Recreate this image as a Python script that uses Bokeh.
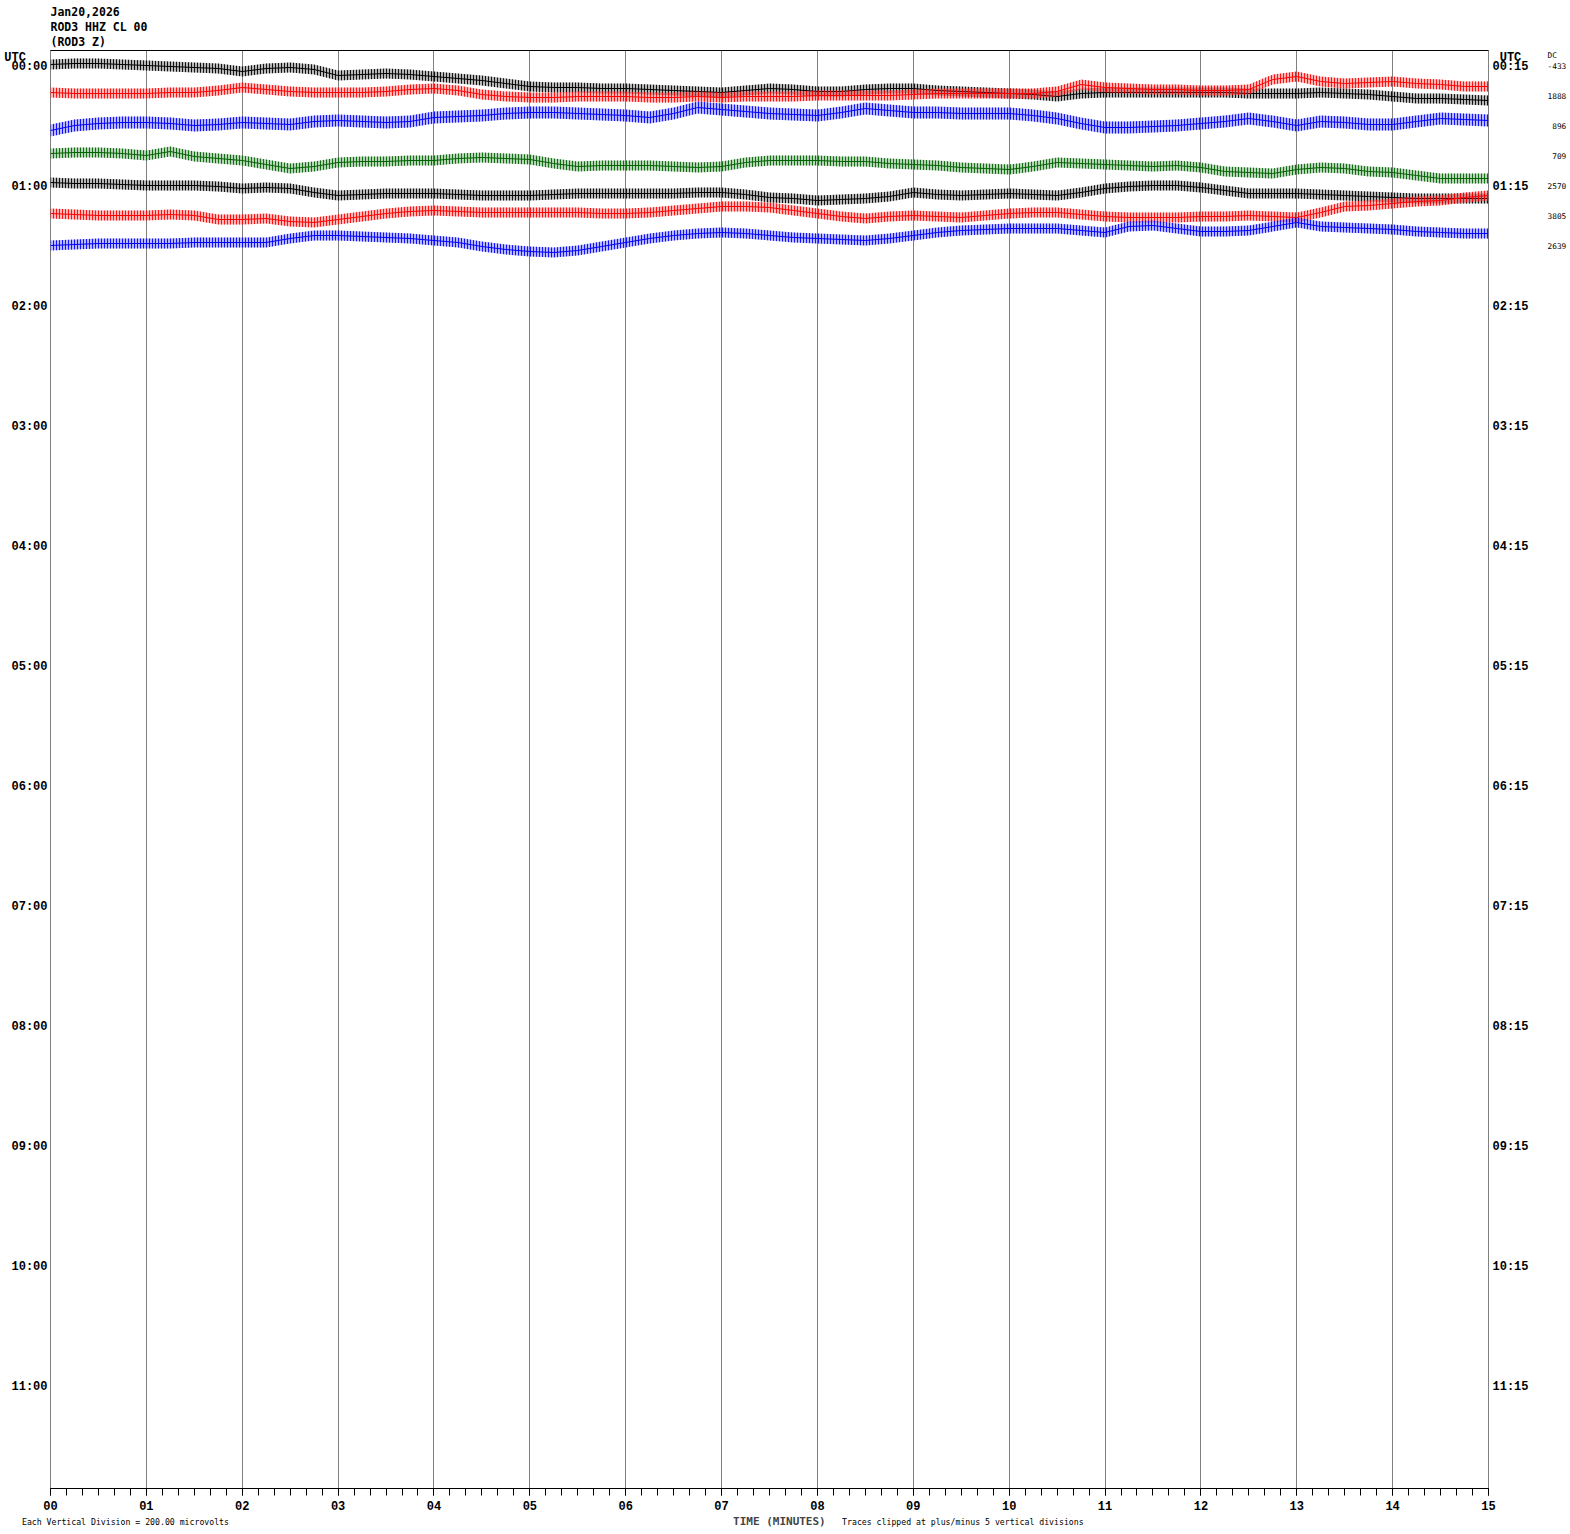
from bokeh.plotting import figure
from bokeh.models import Range1d, LinearAxis, FixedTicker, Label
from bokeh.layouts import column
from bokeh.embed import file_html
from bokeh.resources import INLINE

# ---------------- data ----------------
header_lines = ["Jan20,2026", "ROD3 HHZ CL 00", "(ROD3 Z)"]
left_hours = ["00:00", "01:00", "02:00", "03:00", "04:00", "05:00",
              "06:00", "07:00", "08:00", "09:00", "10:00", "11:00"]
right_hours = ["00:15", "01:15", "02:15", "03:15", "04:15", "05:15",
               "06:15", "07:15", "08:15", "09:15", "10:15", "11:15"]
minute_labels = ["00", "01", "02", "03", "04", "05", "06", "07",
                 "08", "09", "10", "11", "12", "13", "14", "15"]
dc_values = ["-433", "1888", "896", "709", "2570", "3805", "2639"]
microvolts_per_division = "200.00"
clip_divisions = 5

# sample times (minutes into each 15-minute line)
minutes = [0, 0.25, 0.5, 0.75, 1, 1.25, 1.5, 1.75, 2, 2.25, 2.5, 2.75,
           3, 3.25, 3.5, 3.75, 4, 4.25, 4.5, 4.75, 5, 5.25, 5.5, 5.75,
           6, 6.25, 6.5, 6.75, 7, 7.25, 7.5, 7.75, 8, 8.25, 8.5, 8.75,
           9, 9.25, 9.5, 9.75, 10, 10.25, 10.5, 10.75, 11, 11.25, 11.5, 11.75,
           12, 12.25, 12.5, 12.75, 13, 13.25, 13.5, 13.75, 14, 14.25, 14.5, 14.75, 15]

# trace deflection (1/30 of a vertical division, positive = up), one list per line
line_0000 = [2, 3, 3, 2, 1, 0, -1, -2, -5, -2, -1, -3, -9, -8, -7, -8, -10, -12, -14, -17,
             -20, -21, -21, -22, -22, -23, -24, -25, -26, -24, -22, -23, -25, -25, -23, -22,
             -22, -24, -25, -26, -27, -28, -30, -27, -26, -26, -26, -26, -26, -26, -27, -27,
             -27, -26, -27, -28, -30, -32, -32, -33, -34]
line_0015 = [4, 3, 3, 3, 3, 4, 4, 6, 9, 7, 5, 4, 4, 4, 5, 7, 8, 6, 2, 0,
             -1, -1, 0, 0, 0, -1, -1, 0, -1, 0, 0, 0, 1, 1, 1, 1,
             2, 3, 3, 3, 3, 3, 5, 12, 9, 8, 7, 7, 6, 6, 7, 17,
             20, 15, 13, 14, 15, 13, 12, 10, 10]
line_0030 = [-4, 1, 3, 4, 4, 3, 1, 2, 4, 3, 2, 5, 6, 5, 4, 5, 9, 10, 11, 13,
             14, 14, 13, 12, 11, 9, 13, 19, 17, 15, 13, 12, 11, 14, 18, 16,
             14, 14, 13, 13, 13, 11, 8, 3, -1, -1, 0, 1, 3, 5, 8, 5,
             1, 5, 4, 2, 2, 5, 8, 7, 6]
line_0045 = [3, 4, 4, 3, 1, 5, 0, -2, -4, -8, -12, -10, -6, -5, -5, -4, -4, -2, -1, -2,
             -3, -7, -10, -9, -9, -9, -10, -11, -10, -6, -4, -4, -4, -5, -5, -7,
             -8, -9, -11, -12, -13, -10, -6, -7, -8, -9, -10, -9, -11, -15, -16, -17,
             -13, -11, -12, -15, -16, -19, -22, -22, -22]
line_0100 = [4, 3, 3, 2, 1, 1, 1, 0, -2, -1, -2, -6, -9, -8, -7, -7, -7, -8, -9, -9,
             -9, -8, -7, -7, -7, -7, -7, -6, -6, -8, -11, -12, -14, -13, -12, -10,
             -6, -8, -9, -8, -7, -8, -9, -6, -2, 0, 1, 1, -1, -4, -7, -7,
             -7, -8, -9, -10, -11, -12, -12, -12, -12]
line_0115 = [3, 2, 1, 1, 1, 2, 1, -3, -3, -2, -5, -6, -3, 0, 3, 5, 6, 5, 4, 4,
             4, 4, 4, 3, 3, 4, 6, 8, 10, 10, 9, 6, 3, 0, -2, 0,
             1, 0, -1, 1, 3, 4, 4, 2, 0, -1, -1, -1, 0, 0, 1, 0,
             -1, 4, 10, 11, 13, 15, 16, 19, 21]
line_0130 = [1, 2, 3, 3, 3, 3, 4, 4, 4, 4, 8, 11, 11, 10, 9, 8, 6, 4, 0, -3,
             -5, -6, -4, 0, 4, 8, 11, 13, 14, 13, 11, 9, 8, 7, 6, 8,
             11, 14, 16, 17, 18, 18, 18, 16, 14, 20, 21, 18, 15, 15, 16, 20,
             24, 20, 19, 18, 17, 15, 14, 13, 13]
# half-width of the high-frequency noise band of each line (same units)
noise_halfwidth = [5, 5, 6, 5, 5, 5, 5]

lines = [line_0000, line_0015, line_0030, line_0045, line_0100, line_0115, line_0130]

# ---------------- styling / layout ----------------
W = 1568
DIV = 30.0                 # units per vertical division (= line spacing)
COLORS = ["#000000", "#FF0000", "#0000FF", "#006400"]
GRID = "#808080"
NB = "\u00a0"
MONO = "DejaVu Sans Mono"
SERIF_MONO = "Liberation Mono"
FRAME_L, FRAME_R = 50, 1488   # the strips share the main frame's horizontal extent


def strip_fig(height):
    f = figure(width=W, height=height, x_range=Range1d(FRAME_L, FRAME_R),
               y_range=Range1d(height, 0),
               x_axis_type=None, y_axis_type=None, min_border=0,
               toolbar_location=None, output_backend="svg")
    f.outline_line_color = None
    f.xgrid.visible = False
    f.ygrid.visible = False
    return f


# ---- header strip (50 px) ----
head = strip_fig(50)
for i, t in enumerate(header_lines):
    head.add_layout(Label(x=50, y=11 + 15 * i, text=t, text_font=MONO,
                          text_font_style="bold", text_font_size="11.5px",
                          text_baseline="middle", text_align="left", text_color="black"))

# ---- main helicorder panel ----
p = figure(frame_width=1438, frame_height=1438,
           x_range=Range1d(0, 15), y_range=Range1d(47.4, -16 / 30.0),
           min_border_left=50, min_border_right=80, min_border_top=0, min_border_bottom=26,
           toolbar_location=None, output_backend="svg")
p.title.visible = False
p.outline_line_color = GRID
p.outline_line_width = 1

# bottom axis (minutes)
xt = FixedTicker(ticks=list(range(16)), minor_ticks=[i / 6 for i in range(91)])
xa = p.xaxis[0]
xa.ticker = xt
xa.major_label_overrides = {i: lab for i, lab in enumerate(minute_labels)}
xa.axis_line_color = "black"
xa.major_tick_in = 0
xa.major_tick_out = 7
xa.minor_tick_in = 0
xa.minor_tick_out = 7
xa.major_tick_line_color = "black"
xa.minor_tick_line_color = "black"
xa.major_label_standoff = 5
xa.major_label_text_font = SERIF_MONO
xa.major_label_text_font_style = "bold"
xa.major_label_text_font_size = "12px"
xa.major_label_text_color = "black"

p.xgrid.ticker = xt
p.xgrid.grid_line_color = GRID
p.xgrid.grid_line_width = 1
p.ygrid.visible = False

# top border line
ta = LinearAxis(ticker=FixedTicker(ticks=[]), axis_line_color="black",
                major_tick_in=0, major_tick_out=0, minor_tick_in=0, minor_tick_out=0,
                major_tick_line_color=None, minor_tick_line_color=None,
                major_label_standoff=0, major_label_text_font_size="0px")
p.add_layout(ta, "above")

# left axis: line start times, plus the "UTC" heading
hour_rows = [4 * i for i in range(len(left_hours))]
left_over = {r: lab for r, lab in zip(hour_rows, left_hours)}
left_over[-0.35] = "UTC" + NB * 3
ya = p.yaxis[0]
ya.ticker = FixedTicker(ticks=[-0.35] + hour_rows)
ya.major_label_overrides = left_over
ya.axis_line_color = None
ya.major_tick_line_color = None
ya.minor_tick_line_color = None
ya.major_tick_out = 0
ya.major_tick_in = 0
ya.major_label_standoff = 3
ya.major_label_text_font = SERIF_MONO
ya.major_label_text_font_style = "bold"
ya.major_label_text_font_size = "12px"
ya.major_label_text_color = "black"

# right axis: line end times
right_over = {r: lab for r, lab in zip(hour_rows, right_hours)}
right_over[-0.36] = NB + "UTC"
ra = LinearAxis(ticker=FixedTicker(ticks=[-0.36] + hour_rows),
                major_label_overrides=right_over,
                axis_line_color=None, major_tick_line_color=None, minor_tick_line_color=None,
                major_tick_out=0, major_tick_in=0, major_label_standoff=4,
                major_label_text_font=SERIF_MONO, major_label_text_font_style="bold",
                major_label_text_font_size="12px", major_label_text_color="black")
p.add_layout(ra, "right")

# far-right axis: DC offsets of each line
dc_rows = list(range(len(dc_values)))
dc_over = {r: (NB * (4 - len(v)) + v) for r, v in zip(dc_rows, dc_values)}
dc_over[-0.4] = "DC"
da = LinearAxis(ticker=FixedTicker(ticks=[-0.4] + dc_rows),
                major_label_overrides=dc_over,
                axis_line_color=None, major_tick_line_color=None, minor_tick_line_color=None,
                major_tick_out=0, major_tick_in=0, major_label_standoff=16,
                major_label_text_font=MONO, major_label_text_font_size="7.8px",
                major_label_text_color="black")
p.add_layout(da, "right")

# traces
for k, dev in enumerate(lines):
    col = COLORS[k % 4]
    hw = noise_halfwidth[k] / DIV
    center = [k - d / DIV for d in dev]
    upper = [c - hw for c in center]
    lower = [c + hw for c in center]
    p.varea(x=minutes, y1=upper, y2=lower, fill_alpha=0.28, fill_color=col,
            hatch_pattern="vertical_line", hatch_color=col, hatch_scale=3,
            hatch_weight=1, hatch_alpha=0.9)
    p.line(x=minutes, y=center, line_color=col, line_width=1)

# ---- footer strip ----
FOOT_H = 18
foot = strip_fig(FOOT_H)
foot.add_layout(Label(x=733, y=6.5, text="TIME (MINUTES)", text_font=MONO,
                      text_font_style="bold", text_font_size="11px",
                      text_baseline="middle", text_align="left"))
note_left = "Each Vertical Division =  %s microvolts" % microvolts_per_division
note_right = "Traces clipped at plus/minus %d vertical divisions" % clip_divisions
na = LinearAxis(ticker=FixedTicker(ticks=[127.5, 963]),
                major_label_overrides={127.5: note_left, 963: note_right},
                axis_line_color=None, major_tick_line_color=None, minor_tick_line_color=None,
                major_tick_out=0, major_tick_in=0, major_label_standoff=-16,
                major_label_text_font=MONO, major_label_text_font_size="8.2px",
                major_label_text_color="black")
foot.add_layout(na, "below")

layout = column(head, p, foot, spacing=0)
open("out.html", "w").write(file_html(layout, INLINE))
